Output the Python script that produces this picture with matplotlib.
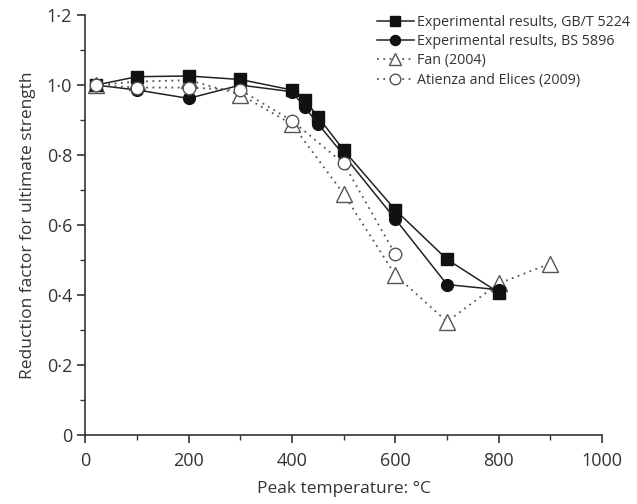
import matplotlib
matplotlib.use("Agg")
import matplotlib.pyplot as plt
from matplotlib.ticker import MultipleLocator, FuncFormatter

plt.rcParams['font.family'] = ['Open Sans', 'DejaVu Sans']

# data
temp_gb = [20, 100, 200, 300, 400, 425, 450, 500, 600, 700, 800]
gb5224 = [1.0, 1.024, 1.026, 1.016, 0.986, 0.957, 0.91, 0.814, 0.643, 0.502, 0.407]

temp_bs = [20, 100, 200, 300, 400, 425, 450, 500, 600, 700, 800]
bs5896 = [1.0, 0.986, 0.962, 1.0, 0.981, 0.936, 0.89, 0.80, 0.617, 0.43, 0.415]

temp_fan = [20, 100, 200, 300, 400, 500, 600, 700, 800, 900]
fan2004 = [1.0, 1.01, 1.014, 0.973, 0.888, 0.689, 0.457, 0.324, 0.433, 0.49]

temp_ae = [20, 100, 200, 300, 400, 500, 600]
atienza2009 = [1.0, 0.993, 0.993, 0.986, 0.898, 0.776, 0.517]

fig = plt.figure(figsize=(6.37, 5.04), dpi=100)
ax = fig.add_axes([0.134, 0.137, 0.811, 0.833])

ax.plot(temp_gb, gb5224, color='#222222', lw=1.1, marker='s', ms=8,
        mfc='#111111', mec='#111111', label='Experimental results, GB/T 5224', zorder=4)
ax.plot(temp_bs, bs5896, color='#222222', lw=1.1, marker='o', ms=8.5,
        mfc='#111111', mec='#111111', label='Experimental results, BS 5896', zorder=4)
ax.plot(temp_fan, fan2004, color='#555555', lw=1.3, ls=(0, (1, 2.5)), marker='^', ms=11,
        mfc='white', mec='#555555', mew=1.0, label='Fan (2004)', zorder=3)
ax.plot(temp_ae, atienza2009, color='#555555', lw=1.3, ls=(0, (1, 2.5)), marker='o', ms=9,
        mfc='white', mec='#555555', mew=1.0, label='Atienza and Elices (2009)', zorder=5)

ax.set_xlim(0, 1000)
ax.set_ylim(0, 1.2)
ax.xaxis.set_major_locator(MultipleLocator(200))
ax.xaxis.set_minor_locator(MultipleLocator(100))
ax.yaxis.set_major_locator(MultipleLocator(0.2))
ax.yaxis.set_minor_locator(MultipleLocator(0.1))
ax.yaxis.set_major_formatter(FuncFormatter(
    lambda v, p: '0' if abs(v) < 1e-9 else ('%.1f' % v).replace('.', '\u00b7')))

for s in ['top', 'right']:
    ax.spines[s].set_visible(False)
for s in ['left', 'bottom']:
    ax.spines[s].set_color('#333333')
    ax.spines[s].set_linewidth(1.2)
ax.tick_params(which='major', length=6, width=1.2, color='#333333',
               labelsize=13, labelcolor='#333333')
ax.tick_params(axis='x', which='major', pad=6)
ax.tick_params(which='minor', length=3.5, width=1.0, color='#333333')

ax.set_xlabel('Peak temperature: \u00b0C', fontsize=12.5, color='#333333', labelpad=8)
ax.set_ylabel('Reduction factor for ultimate strength', fontsize=12.5, color='#333333', labelpad=8)

leg = ax.legend(loc='upper left', bbox_to_anchor=(0.571, 0.996),
                bbox_transform=fig.transFigure, frameon=False,
                fontsize=10.3, handlelength=2.6, handletextpad=0.25,
                labelspacing=0.3, markerscale=0.85)
for t in leg.get_texts():
    t.set_color('#333333')

fig.savefig('out.png', dpi=100)
